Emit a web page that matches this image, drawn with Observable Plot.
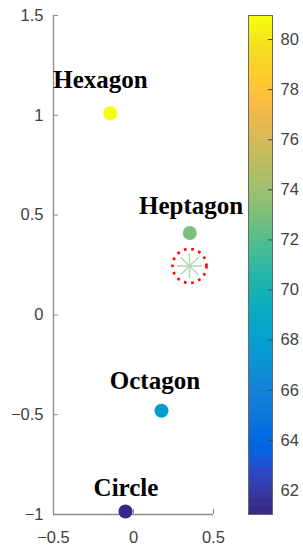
<!DOCTYPE html>
<html><head><meta charset="utf-8">
<script src="https://cdn.jsdelivr.net/npm/d3@7"></script>
<script src="https://cdn.jsdelivr.net/npm/@observablehq/plot@0.6"></script>
<style>
body{margin:0;background:#fff}
#wrap{position:relative;width:303px;height:547px;overflow:hidden}
#wrap svg{position:absolute;top:0}
</style>
</head><body><div id="wrap"></div>
<script>
// ---- data ----
const names  = ["Hexagon", "Heptagon", "Octagon", "Circle"];
const xs     = [-0.145, 0.352, 0.175, -0.05];
const ys     = [1.01, 0.41, -0.48, -0.985];
const vals   = [80.9, 73.0, 67.8, 61.1];
const labelX = [-0.206, 0.36, 0.134, -0.047];
const labelY = [1.135, 0.507, -0.372, -0.905];
const targetX = [0.35];
const targetY = [0.245];
const targetVal = [73.0];
const xTicks = [-0.5, 0, 0.5];
const yTicks = [-1, -0.5, 0, 0.5, 1, 1.5];
const cbTicks = [62, 64, 66, 68, 70, 72, 74, 76, 78, 80];
const xDomain = [-0.5, 0.5];
const yDomain = [-1, 1.5];
const cDomain = [61.04, 80.96];

// parula colormap (64 levels)
const parula = [
[0.2081,0.1663,0.5292],[0.2116,0.1898,0.5777],[0.2123,0.2138,0.6270],[0.2081,0.2386,0.6771],
[0.1959,0.2645,0.7279],[0.1707,0.2919,0.7792],[0.1253,0.3242,0.8303],[0.0591,0.3598,0.8683],
[0.0117,0.3875,0.8820],[0.0060,0.4086,0.8828],[0.0165,0.4266,0.8786],[0.0329,0.4430,0.8720],
[0.0498,0.4586,0.8641],[0.0629,0.4737,0.8554],[0.0723,0.4887,0.8467],[0.0779,0.5040,0.8384],
[0.0793,0.5200,0.8312],[0.0749,0.5375,0.8263],[0.0641,0.5570,0.8240],[0.0488,0.5772,0.8228],
[0.0343,0.5966,0.8199],[0.0265,0.6137,0.8135],[0.0239,0.6287,0.8038],[0.0231,0.6418,0.7913],
[0.0228,0.6535,0.7768],[0.0267,0.6642,0.7607],[0.0384,0.6743,0.7436],[0.0590,0.6838,0.7254],
[0.0843,0.6928,0.7062],[0.1133,0.7015,0.6859],[0.1453,0.7098,0.6646],[0.1801,0.7177,0.6424],
[0.2178,0.7250,0.6193],[0.2586,0.7317,0.5954],[0.3022,0.7376,0.5712],[0.3482,0.7424,0.5473],
[0.3953,0.7459,0.5244],[0.4420,0.7481,0.5033],[0.4871,0.7491,0.4840],[0.5300,0.7491,0.4661],
[0.5709,0.7485,0.4494],[0.6099,0.7473,0.4337],[0.6473,0.7456,0.4188],[0.6834,0.7435,0.4044],
[0.7184,0.7411,0.3905],[0.7525,0.7384,0.3768],[0.7858,0.7356,0.3633],[0.8185,0.7327,0.3498],
[0.8507,0.7299,0.3360],[0.8824,0.7274,0.3217],[0.9139,0.7258,0.3063],[0.9450,0.7261,0.2886],
[0.9739,0.7314,0.2666],[0.9938,0.7455,0.2403],[0.9990,0.7653,0.2164],[0.9955,0.7861,0.1967],
[0.9880,0.8066,0.1794],[0.9789,0.8271,0.1633],[0.9697,0.8481,0.1475],[0.9626,0.8705,0.1309],
[0.9589,0.8949,0.1132],[0.9598,0.9218,0.0948],[0.9661,0.9514,0.0755],[0.9763,0.9831,0.0538]
].map(([r,g,b]) => d3.rgb(r*255, g*255, b*255).formatHex());

const colorOpts = {
  type: "linear", domain: cDomain, clamp: true,
  interpolate: t => parula[Math.max(0, Math.min(63, Math.floor(t * 64)))]
};

// 8-armed asterisk symbol
const asterisk8 = {
  draw(ctx, size) {
    const r = Math.sqrt(size / Math.PI);
    for (let k = 0; k < 4; k++) {
      const a = k * Math.PI / 4;
      ctx.moveTo(r * Math.cos(a), r * Math.sin(a));
      ctx.lineTo(-r * Math.cos(a), -r * Math.sin(a));
    }
  }
};

const fmt = d3.format("~g");
const idx = d3.range(names.length);
const tIdx = d3.range(targetX.length);
const axisGray = "#8c8c8c";
const labelGray = "#3f3f3f";
const tickFont = 16.5;

const main = Plot.plot({
  width: 303, height: 547,
  marginLeft: 53, marginRight: 90, marginTop: 15, marginBottom: 33,
  x: {domain: xDomain},
  y: {domain: yDomain},
  color: colorOpts,
  style: {fontFamily: "'Liberation Sans', Arial, sans-serif", fontSize: "16px", background: "transparent", color: labelGray},
  marks: [
    Plot.ruleX([xDomain[0]], {stroke: axisGray, strokeWidth: 1.3}),
    Plot.ruleY([yDomain[0]], {stroke: axisGray, strokeWidth: 1.3}),
    Plot.axisY(yTicks, {tickSize: -5, tickPadding: 15, tickFormat: fmt, label: null, stroke: axisGray, fill: labelGray, fontSize: tickFont}),
    Plot.axisX(xTicks, {tickSize: -5, tickPadding: 22, tickFormat: fmt, label: null, stroke: axisGray, fill: labelGray, fontSize: tickFont}),
    Plot.dot(tIdx, {x: i => targetX[i], y: i => targetY[i], r: 12.5, symbol: asterisk8,
      stroke: i => targetVal[i], strokeOpacity: 0.6, strokeWidth: 1.5, fill: "none"}),
    Plot.dot(tIdx, {x: i => targetX[i], y: i => targetY[i], r: 17,
      stroke: "#ff0000", strokeWidth: 2.6, strokeDasharray: "2.6,4.8", fill: "none"}),
    Plot.dot(idx, {x: i => xs[i], y: i => ys[i], r: 7, fill: i => vals[i], stroke: "none"}),
    Plot.text(idx, {x: i => labelX[i], y: i => labelY[i], text: i => names[i],
      lineAnchor: "bottom", textAnchor: "middle", fontWeight: "bold", fontSize: 25,
      fontFamily: "'Liberation Serif', 'Times New Roman', serif", fill: "#000"})
  ]
});

const nLev = 64;
const lo = cDomain[0], step = (cDomain[1] - cDomain[0]) / nLev;
const levels = d3.range(nLev);
const cb = Plot.plot({
  width: 56, height: 547,
  marginLeft: 1, marginRight: 31, marginTop: 15, marginBottom: 33,
  y: {domain: cDomain},
  color: colorOpts,
  style: {fontFamily: "'Liberation Sans', Arial, sans-serif", fontSize: "16px", background: "transparent", color: labelGray},
  marks: [
    Plot.rect(levels, {y1: i => lo + i * step, y2: i => lo + (i + 1) * step, fill: i => lo + (i + 0.5) * step, shapeRendering: "crispEdges"}),
    Plot.frame({stroke: "#6a6a6a", strokeWidth: 1}),
    Plot.axisY(cbTicks, {anchor: "right", tickSize: -5, tickPadding: 13, tickFormat: fmt, label: null, stroke: "#444", fill: labelGray, fontSize: tickFont})
  ]
});

const wrap = document.getElementById("wrap");
main.style.left = "0px";
cb.style.left = "247px";
wrap.appendChild(main);
wrap.appendChild(cb);
</script></body></html>
